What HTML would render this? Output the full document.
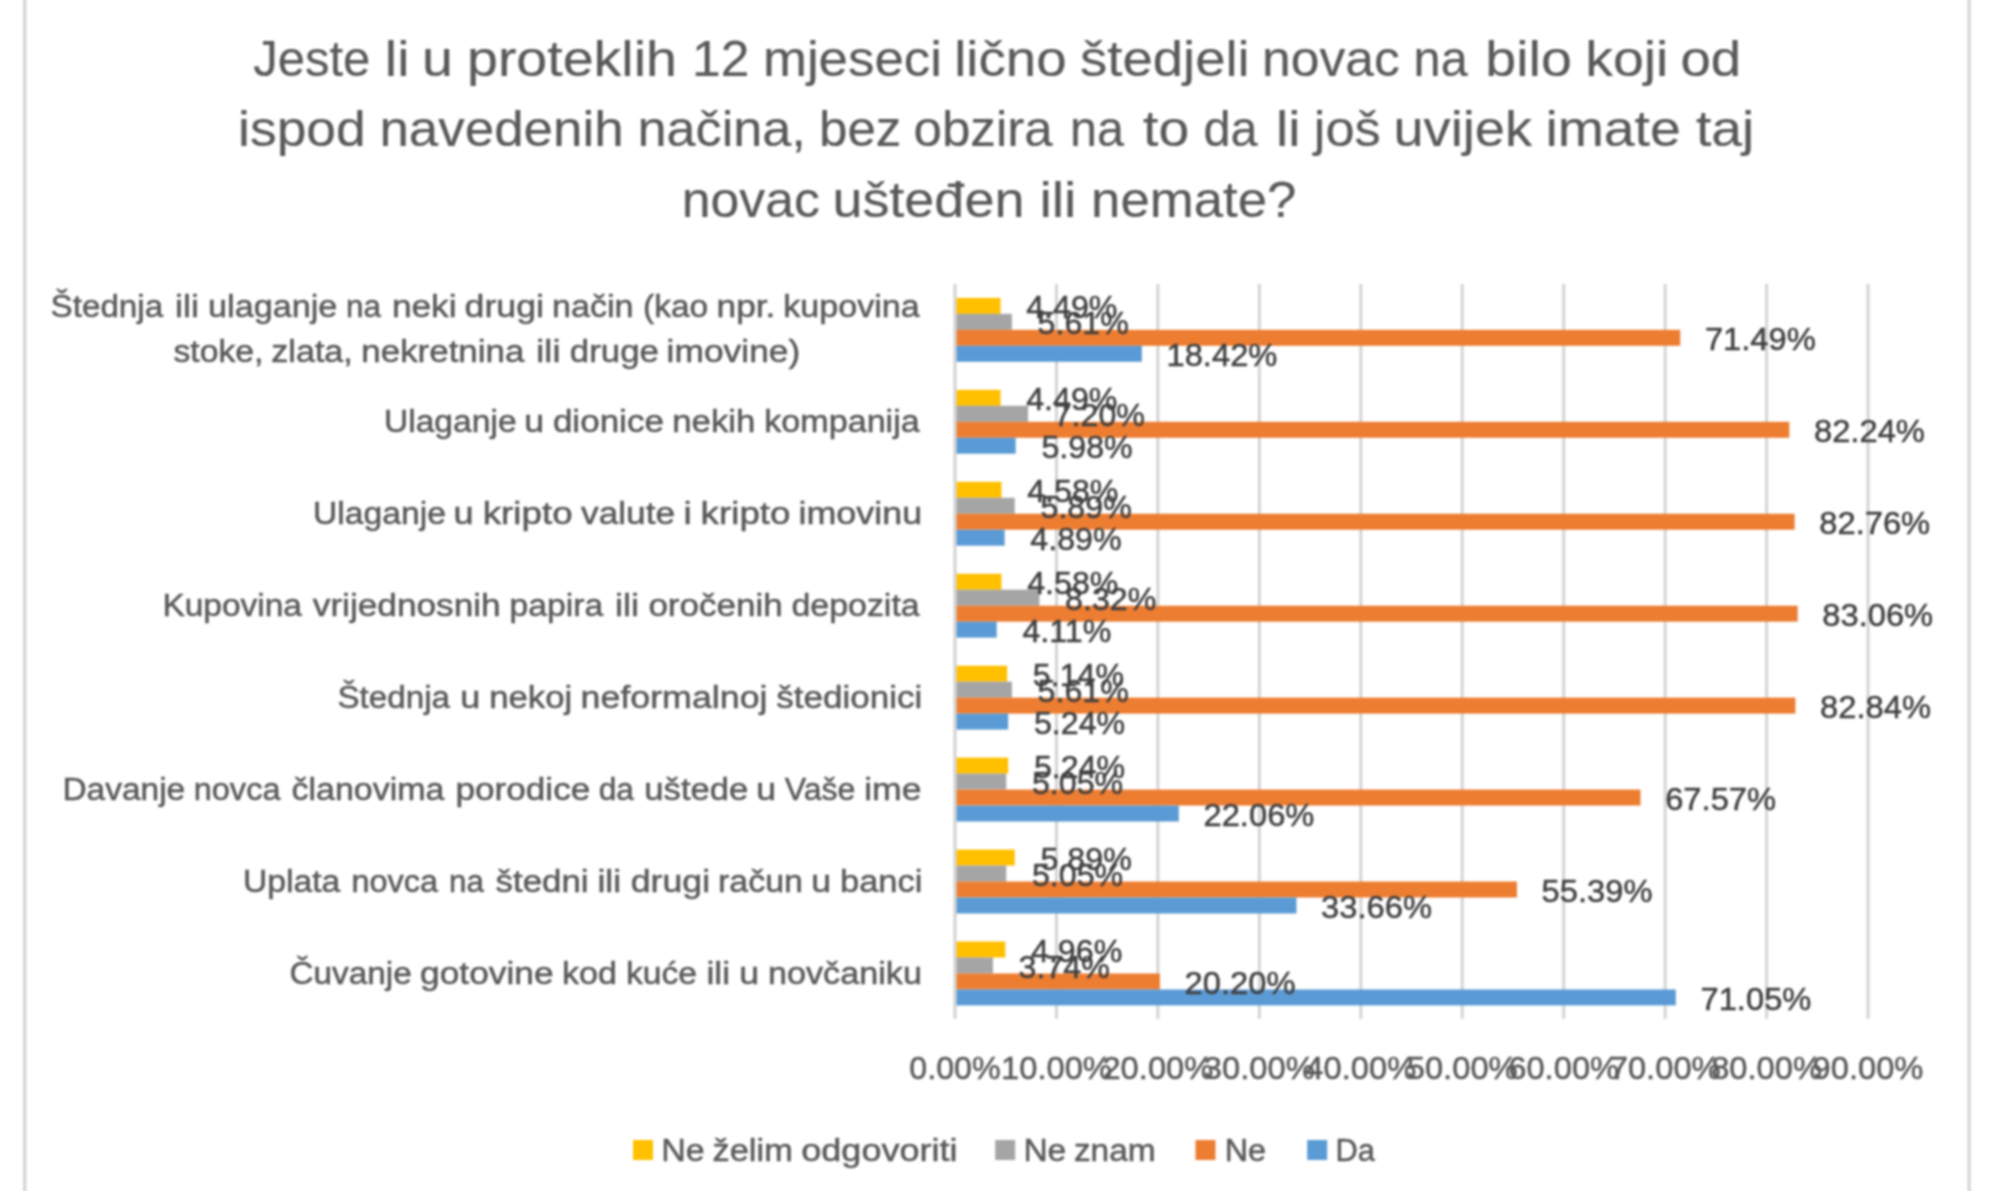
<!DOCTYPE html>
<html lang="bs"><head><meta charset="utf-8"><title>Štednja</title>
<style>html,body{margin:0;padding:0;background:#fff}body{width:2000px;height:1191px;overflow:hidden}svg{display:block}text{font-family:"Liberation Sans",sans-serif}</style></head><body>
<svg width="2000" height="1191" viewBox="0 0 2000 1191">
<rect width="2000" height="1191" fill="#fff"/>
<g style="filter:blur(.8px)">
<rect x="-20" y="-20" width="2040" height="1231" fill="#fff"/>
<rect x="23.0" y="-10" width="3.4" height="1211" fill="#D5D5D5"/>
<rect x="1967.5" y="-10" width="3.2" height="1211" fill="#D5D5D5"/>
<g fill="#595959" stroke="#595959" stroke-width=".2" font-size="49.6">
<text y="76.3"><tspan x="253.2" textLength="117.1" lengthAdjust="spacingAndGlyphs">Jeste</tspan> <tspan x="384.8" textLength="24.7" lengthAdjust="spacingAndGlyphs">li</tspan> <tspan x="422.1" textLength="30.9" lengthAdjust="spacingAndGlyphs">u</tspan> <tspan x="467.0" textLength="209.9" lengthAdjust="spacingAndGlyphs">proteklih</tspan> <tspan x="692.1" textLength="57.3" lengthAdjust="spacingAndGlyphs">12</tspan> <tspan x="762.9" textLength="179.0" lengthAdjust="spacingAndGlyphs">mjeseci</tspan> <tspan x="954.2" textLength="112.5" lengthAdjust="spacingAndGlyphs">lično</tspan> <tspan x="1080.1" textLength="169.6" lengthAdjust="spacingAndGlyphs">štedjeli</tspan> <tspan x="1262.0" textLength="137.8" lengthAdjust="spacingAndGlyphs">novac</tspan> <tspan x="1413.6" textLength="54.1" lengthAdjust="spacingAndGlyphs">na</tspan> <tspan x="1485.3" textLength="86.5" lengthAdjust="spacingAndGlyphs">bilo</tspan> <tspan x="1585.2" textLength="83.2" lengthAdjust="spacingAndGlyphs">koji</tspan> <tspan x="1680.4" textLength="60.7" lengthAdjust="spacingAndGlyphs">od</tspan></text>
<text y="146.0"><tspan x="238.1" textLength="127.6" lengthAdjust="spacingAndGlyphs">ispod</tspan> <tspan x="379.4" textLength="244.3" lengthAdjust="spacingAndGlyphs">navedenih</tspan> <tspan x="637.4" textLength="168.5" lengthAdjust="spacingAndGlyphs">načina,</tspan> <tspan x="819.1" textLength="82.3" lengthAdjust="spacingAndGlyphs">bez</tspan> <tspan x="913.5" textLength="139.2" lengthAdjust="spacingAndGlyphs">obzira</tspan> <tspan x="1070.0" textLength="54.0" lengthAdjust="spacingAndGlyphs">na</tspan> <tspan x="1143.0" textLength="46.2" lengthAdjust="spacingAndGlyphs">to</tspan> <tspan x="1203.4" textLength="54.2" lengthAdjust="spacingAndGlyphs">da</tspan> <tspan x="1276.0" textLength="24.6" lengthAdjust="spacingAndGlyphs">li</tspan> <tspan x="1313.8" textLength="67.0" lengthAdjust="spacingAndGlyphs">još</tspan> <tspan x="1393.4" textLength="138.6" lengthAdjust="spacingAndGlyphs">uvijek</tspan> <tspan x="1545.4" textLength="135.4" lengthAdjust="spacingAndGlyphs">imate</tspan> <tspan x="1695.9" textLength="58.5" lengthAdjust="spacingAndGlyphs">taj</tspan></text>
<text y="217.0"><tspan x="681.8" textLength="138.0" lengthAdjust="spacingAndGlyphs">novac</tspan> <tspan x="832.4" textLength="192.0" lengthAdjust="spacingAndGlyphs">ušteđen</tspan> <tspan x="1039.4" textLength="37.0" lengthAdjust="spacingAndGlyphs">ili</tspan> <tspan x="1091.1" textLength="205.2" lengthAdjust="spacingAndGlyphs">nemate?</tspan></text>
</g>
<g fill="#D4D4D4">
<rect x="953.40" y="283.9" width="3.2" height="734.9"/>
<rect x="1054.95" y="283.9" width="3.0" height="734.9"/>
<rect x="1156.40" y="283.9" width="3.0" height="734.9"/>
<rect x="1257.85" y="283.9" width="3.0" height="734.9"/>
<rect x="1359.30" y="283.9" width="3.0" height="734.9"/>
<rect x="1460.75" y="283.9" width="3.0" height="734.9"/>
<rect x="1562.20" y="283.9" width="3.0" height="734.9"/>
<rect x="1663.65" y="283.9" width="3.0" height="734.9"/>
<rect x="1765.10" y="283.9" width="3.0" height="734.9"/>
<rect x="1866.55" y="283.9" width="3.0" height="734.9"/>
</g>
<g fill="#595959" stroke="#595959" stroke-width=".5" font-size="30.8">
<text y="317.3"><tspan x="50.5" textLength="112.7" lengthAdjust="spacingAndGlyphs">Štednja</tspan> <tspan x="175.1" textLength="23.8" lengthAdjust="spacingAndGlyphs">ili</tspan> <tspan x="208.0" textLength="129.4" lengthAdjust="spacingAndGlyphs">ulaganje</tspan> <tspan x="346.0" textLength="35.0" lengthAdjust="spacingAndGlyphs">na</tspan> <tspan x="391.9" textLength="64.7" lengthAdjust="spacingAndGlyphs">neki</tspan> <tspan x="464.5" textLength="79.5" lengthAdjust="spacingAndGlyphs">drugi</tspan> <tspan x="552.0" textLength="81.5" lengthAdjust="spacingAndGlyphs">način</tspan> <tspan x="643.0" textLength="65.2" lengthAdjust="spacingAndGlyphs">(kao</tspan> <tspan x="716.5" textLength="58.9" lengthAdjust="spacingAndGlyphs">npr.</tspan> <tspan x="783.3" textLength="136.5" lengthAdjust="spacingAndGlyphs">kupovina</tspan></text>
<text y="362.3"><tspan x="173.5" textLength="90.0" lengthAdjust="spacingAndGlyphs">stoke,</tspan> <tspan x="271.3" textLength="81.5" lengthAdjust="spacingAndGlyphs">zlata,</tspan> <tspan x="361.3" textLength="163.1" lengthAdjust="spacingAndGlyphs">nekretnina</tspan> <tspan x="536.3" textLength="24.2" lengthAdjust="spacingAndGlyphs">ili</tspan> <tspan x="569.8" textLength="89.1" lengthAdjust="spacingAndGlyphs">druge</tspan> <tspan x="666.6" textLength="133.7" lengthAdjust="spacingAndGlyphs">imovine)</tspan></text>
<text y="432.1"><tspan x="383.9" textLength="132.7" lengthAdjust="spacingAndGlyphs">Ulaganje</tspan> <tspan x="524.3" textLength="19.9" lengthAdjust="spacingAndGlyphs">u</tspan> <tspan x="552.9" textLength="111.0" lengthAdjust="spacingAndGlyphs">dionice</tspan> <tspan x="672.2" textLength="83.2" lengthAdjust="spacingAndGlyphs">nekih</tspan> <tspan x="764.2" textLength="155.6" lengthAdjust="spacingAndGlyphs">kompanija</tspan></text>
<text y="524.0"><tspan x="312.9" textLength="133.0" lengthAdjust="spacingAndGlyphs">Ulaganje</tspan> <tspan x="453.6" textLength="20.1" lengthAdjust="spacingAndGlyphs">u</tspan> <tspan x="482.7" textLength="89.9" lengthAdjust="spacingAndGlyphs">kripto</tspan> <tspan x="581.1" textLength="93.9" lengthAdjust="spacingAndGlyphs">valute</tspan> <tspan x="683.4" textLength="8.2" lengthAdjust="spacingAndGlyphs">i</tspan> <tspan x="700.6" textLength="89.9" lengthAdjust="spacingAndGlyphs">kripto</tspan> <tspan x="798.5" textLength="123.6" lengthAdjust="spacingAndGlyphs">imovinu</tspan></text>
<text y="616.0"><tspan x="162.4" textLength="139.6" lengthAdjust="spacingAndGlyphs">Kupovina</tspan> <tspan x="312.8" textLength="187.9" lengthAdjust="spacingAndGlyphs">vrijednosnih</tspan> <tspan x="509.6" textLength="93.6" lengthAdjust="spacingAndGlyphs">papira</tspan> <tspan x="615.0" textLength="24.1" lengthAdjust="spacingAndGlyphs">ili</tspan> <tspan x="648.4" textLength="134.3" lengthAdjust="spacingAndGlyphs">oročenih</tspan> <tspan x="791.4" textLength="128.3" lengthAdjust="spacingAndGlyphs">depozita</tspan></text>
<text y="707.9"><tspan x="337.5" textLength="112.5" lengthAdjust="spacingAndGlyphs">Štednja</tspan> <tspan x="460.3" textLength="20.1" lengthAdjust="spacingAndGlyphs">u</tspan> <tspan x="489.2" textLength="83.1" lengthAdjust="spacingAndGlyphs">nekoj</tspan> <tspan x="580.6" textLength="186.9" lengthAdjust="spacingAndGlyphs">neformalnoj</tspan> <tspan x="776.2" textLength="146.1" lengthAdjust="spacingAndGlyphs">štedionici</tspan></text>
<text y="799.9"><tspan x="62.4" textLength="122.8" lengthAdjust="spacingAndGlyphs">Davanje</tspan> <tspan x="193.7" textLength="86.8" lengthAdjust="spacingAndGlyphs">novca</tspan> <tspan x="291.5" textLength="153.0" lengthAdjust="spacingAndGlyphs">članovima</tspan> <tspan x="455.4" textLength="134.9" lengthAdjust="spacingAndGlyphs">porodice</tspan> <tspan x="598.7" textLength="35.2" lengthAdjust="spacingAndGlyphs">da</tspan> <tspan x="644.3" textLength="104.0" lengthAdjust="spacingAndGlyphs">uštede</tspan> <tspan x="756.2" textLength="19.8" lengthAdjust="spacingAndGlyphs">u</tspan> <tspan x="784.7" textLength="70.8" lengthAdjust="spacingAndGlyphs">Vaše</tspan> <tspan x="864.2" textLength="57.3" lengthAdjust="spacingAndGlyphs">ime</tspan></text>
<text y="891.8"><tspan x="242.9" textLength="97.4" lengthAdjust="spacingAndGlyphs">Uplata</tspan> <tspan x="351.4" textLength="86.6" lengthAdjust="spacingAndGlyphs">novca</tspan> <tspan x="449.1" textLength="34.9" lengthAdjust="spacingAndGlyphs">na</tspan> <tspan x="495.5" textLength="93.1" lengthAdjust="spacingAndGlyphs">štedni</tspan> <tspan x="597.4" textLength="23.9" lengthAdjust="spacingAndGlyphs">ili</tspan> <tspan x="630.7" textLength="79.4" lengthAdjust="spacingAndGlyphs">drugi</tspan> <tspan x="718.0" textLength="85.0" lengthAdjust="spacingAndGlyphs">račun</tspan> <tspan x="811.2" textLength="19.9" lengthAdjust="spacingAndGlyphs">u</tspan> <tspan x="840.0" textLength="82.3" lengthAdjust="spacingAndGlyphs">banci</tspan></text>
<text y="983.8"><tspan x="289.4" textLength="122.4" lengthAdjust="spacingAndGlyphs">Čuvanje</tspan> <tspan x="420.1" textLength="133.5" lengthAdjust="spacingAndGlyphs">gotovine</tspan> <tspan x="562.0" textLength="55.0" lengthAdjust="spacingAndGlyphs">kod</tspan> <tspan x="625.9" textLength="71.0" lengthAdjust="spacingAndGlyphs">kuće</tspan> <tspan x="706.4" textLength="23.8" lengthAdjust="spacingAndGlyphs">ili</tspan> <tspan x="739.2" textLength="19.9" lengthAdjust="spacingAndGlyphs">u</tspan> <tspan x="768.0" textLength="153.9" lengthAdjust="spacingAndGlyphs">novčaniku</tspan></text>
</g>
<g fill="#FFC000">
<rect x="956.5" y="297.89" width="44.05" height="15.97"/>
<rect x="956.5" y="389.84" width="44.05" height="15.97"/>
<rect x="956.5" y="481.79" width="44.96" height="15.97"/>
<rect x="956.5" y="573.74" width="44.96" height="15.97"/>
<rect x="956.5" y="665.69" width="50.65" height="15.97"/>
<rect x="956.5" y="757.63" width="51.66" height="15.97"/>
<rect x="956.5" y="849.59" width="58.25" height="15.97"/>
<rect x="956.5" y="941.53" width="48.82" height="15.97"/>
</g>
<g fill="#A5A5A5">
<rect x="956.5" y="313.86" width="55.41" height="15.97"/>
<rect x="956.5" y="405.81" width="71.54" height="15.97"/>
<rect x="956.5" y="497.76" width="58.25" height="15.97"/>
<rect x="956.5" y="589.71" width="82.91" height="15.97"/>
<rect x="956.5" y="681.66" width="55.41" height="15.97"/>
<rect x="956.5" y="773.61" width="49.73" height="15.97"/>
<rect x="956.5" y="865.56" width="49.73" height="15.97"/>
<rect x="956.5" y="957.50" width="36.44" height="15.97"/>
</g>
<g fill="#ED7D31">
<rect x="956.5" y="329.83" width="723.77" height="15.97"/>
<rect x="956.5" y="421.78" width="832.82" height="15.97"/>
<rect x="956.5" y="513.73" width="838.10" height="15.97"/>
<rect x="956.5" y="605.68" width="841.14" height="15.97"/>
<rect x="956.5" y="697.63" width="838.91" height="15.97"/>
<rect x="956.5" y="789.58" width="684.00" height="15.97"/>
<rect x="956.5" y="881.53" width="560.43" height="15.97"/>
<rect x="956.5" y="973.48" width="203.43" height="15.97"/>
</g>
<g fill="#5B9BD5">
<rect x="956.5" y="345.80" width="185.37" height="15.97"/>
<rect x="956.5" y="437.75" width="59.17" height="15.97"/>
<rect x="956.5" y="529.70" width="48.11" height="15.97"/>
<rect x="956.5" y="621.64" width="40.20" height="15.97"/>
<rect x="956.5" y="713.60" width="51.66" height="15.97"/>
<rect x="956.5" y="805.54" width="222.30" height="15.97"/>
<rect x="956.5" y="897.50" width="339.98" height="15.97"/>
<rect x="956.5" y="989.44" width="719.30" height="15.97"/>
</g>
<g fill="#404040" stroke="#404040" stroke-width=".5" font-size="32.0">
<text x="1026.2" y="318.3" textLength="91.3" lengthAdjust="spacingAndGlyphs">4.49%</text>
<text x="1026.2" y="410.2" textLength="91.3" lengthAdjust="spacingAndGlyphs">4.49%</text>
<text x="1027.2" y="502.2" textLength="91.3" lengthAdjust="spacingAndGlyphs">4.58%</text>
<text x="1027.2" y="594.1" textLength="91.3" lengthAdjust="spacingAndGlyphs">4.58%</text>
<text x="1032.8" y="686.1" textLength="91.3" lengthAdjust="spacingAndGlyphs">5.14%</text>
<text x="1033.9" y="778.0" textLength="91.3" lengthAdjust="spacingAndGlyphs">5.24%</text>
<text x="1040.5" y="870.0" textLength="91.3" lengthAdjust="spacingAndGlyphs">5.89%</text>
<text x="1031.0" y="961.9" textLength="91.3" lengthAdjust="spacingAndGlyphs">4.96%</text>
<text x="1037.6" y="334.2" textLength="91.3" lengthAdjust="spacingAndGlyphs">5.61%</text>
<text x="1053.7" y="426.2" textLength="91.3" lengthAdjust="spacingAndGlyphs">7.20%</text>
<text x="1040.5" y="518.1" textLength="91.3" lengthAdjust="spacingAndGlyphs">5.89%</text>
<text x="1065.1" y="610.1" textLength="91.3" lengthAdjust="spacingAndGlyphs">8.32%</text>
<text x="1037.6" y="702.0" textLength="91.3" lengthAdjust="spacingAndGlyphs">5.61%</text>
<text x="1031.9" y="794.0" textLength="91.3" lengthAdjust="spacingAndGlyphs">5.05%</text>
<text x="1031.9" y="885.9" textLength="91.3" lengthAdjust="spacingAndGlyphs">5.05%</text>
<text x="1018.6" y="977.9" textLength="91.3" lengthAdjust="spacingAndGlyphs">3.74%</text>
<text x="1704.9" y="350.2" textLength="110.9" lengthAdjust="spacingAndGlyphs">71.49%</text>
<text x="1814.0" y="442.2" textLength="110.9" lengthAdjust="spacingAndGlyphs">82.24%</text>
<text x="1819.3" y="534.1" textLength="110.9" lengthAdjust="spacingAndGlyphs">82.76%</text>
<text x="1822.3" y="626.1" textLength="110.9" lengthAdjust="spacingAndGlyphs">83.06%</text>
<text x="1820.1" y="718.0" textLength="110.9" lengthAdjust="spacingAndGlyphs">82.84%</text>
<text x="1665.2" y="810.0" textLength="110.9" lengthAdjust="spacingAndGlyphs">67.57%</text>
<text x="1541.6" y="901.9" textLength="110.9" lengthAdjust="spacingAndGlyphs">55.39%</text>
<text x="1184.6" y="993.9" textLength="110.9" lengthAdjust="spacingAndGlyphs">20.20%</text>
<text x="1166.5" y="366.2" textLength="110.9" lengthAdjust="spacingAndGlyphs">18.42%</text>
<text x="1041.4" y="458.1" textLength="91.3" lengthAdjust="spacingAndGlyphs">5.98%</text>
<text x="1030.3" y="550.1" textLength="91.3" lengthAdjust="spacingAndGlyphs">4.89%</text>
<text x="1022.4" y="642.0" textLength="88.9" lengthAdjust="spacingAndGlyphs">4.11%</text>
<text x="1033.9" y="734.0" textLength="91.3" lengthAdjust="spacingAndGlyphs">5.24%</text>
<text x="1203.5" y="825.9" textLength="110.9" lengthAdjust="spacingAndGlyphs">22.06%</text>
<text x="1321.1" y="917.9" textLength="110.9" lengthAdjust="spacingAndGlyphs">33.66%</text>
<text x="1700.5" y="1009.8" textLength="110.9" lengthAdjust="spacingAndGlyphs">71.05%</text>
</g>
<g fill="#595959" stroke="#595959" stroke-width=".5" font-size="32.0" text-anchor="middle">
<text x="955.0" y="1079.2" textLength="91.3" lengthAdjust="spacingAndGlyphs">0.00%</text>
<text x="1056.5" y="1079.2" textLength="110.9" lengthAdjust="spacingAndGlyphs">10.00%</text>
<text x="1157.9" y="1079.2" textLength="110.9" lengthAdjust="spacingAndGlyphs">20.00%</text>
<text x="1259.3" y="1079.2" textLength="110.9" lengthAdjust="spacingAndGlyphs">30.00%</text>
<text x="1360.8" y="1079.2" textLength="110.9" lengthAdjust="spacingAndGlyphs">40.00%</text>
<text x="1462.2" y="1079.2" textLength="110.9" lengthAdjust="spacingAndGlyphs">50.00%</text>
<text x="1563.7" y="1079.2" textLength="110.9" lengthAdjust="spacingAndGlyphs">60.00%</text>
<text x="1665.2" y="1079.2" textLength="110.9" lengthAdjust="spacingAndGlyphs">70.00%</text>
<text x="1766.6" y="1079.2" textLength="110.9" lengthAdjust="spacingAndGlyphs">80.00%</text>
<text x="1868.0" y="1079.2" textLength="110.9" lengthAdjust="spacingAndGlyphs">90.00%</text>
</g>
<rect x="633.0" y="1140" width="20" height="20" fill="#FFC000"/>
<text y="1161.3" font-size="30.8" fill="#595959" stroke="#595959" stroke-width=".5"><tspan x="661.3" textLength="43.5" lengthAdjust="spacingAndGlyphs">Ne</tspan> <tspan x="712.5" textLength="80.3" lengthAdjust="spacingAndGlyphs">želim</tspan> <tspan x="801.3" textLength="156.2" lengthAdjust="spacingAndGlyphs">odgovoriti</tspan></text>
<rect x="995.2" y="1140" width="20" height="20" fill="#A5A5A5"/>
<text y="1161.3" font-size="30.8" fill="#595959" stroke="#595959" stroke-width=".5"><tspan x="1023.4" textLength="42.9" lengthAdjust="spacingAndGlyphs">Ne</tspan> <tspan x="1073.9" textLength="81.8" lengthAdjust="spacingAndGlyphs">znam</tspan></text>
<rect x="1195.5" y="1140" width="20" height="20" fill="#ED7D31"/>
<text y="1161.3" font-size="30.8" fill="#595959" stroke="#595959" stroke-width=".5"><tspan x="1224.7" textLength="41.4" lengthAdjust="spacingAndGlyphs">Ne</tspan></text>
<rect x="1307.2" y="1140" width="20" height="20" fill="#5B9BD5"/>
<text y="1161.3" font-size="30.8" fill="#595959" stroke="#595959" stroke-width=".5"><tspan x="1335.6" textLength="39.4" lengthAdjust="spacingAndGlyphs">Da</tspan></text>
</g>
</svg></body></html>
